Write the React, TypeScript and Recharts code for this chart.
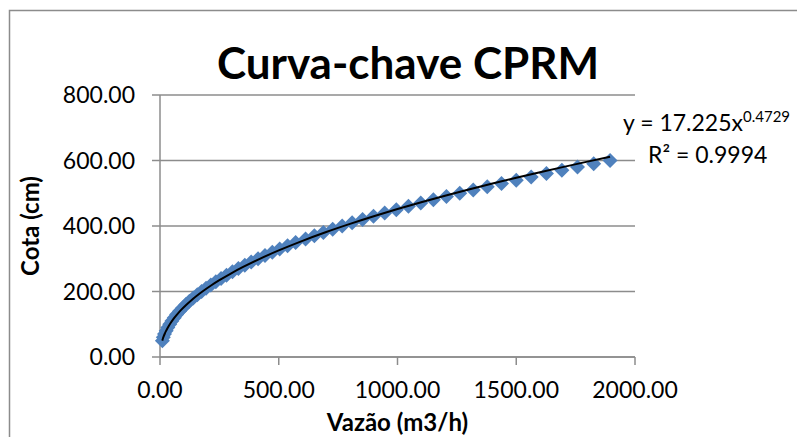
import { CartesianGrid, ComposedChart, Scatter, XAxis, YAxis } from "recharts";

// cota (cm) vs vazão (m3/h)
const cota = [
  50, 60, 70, 80, 90, 100, 110, 120, 130, 140, 150, 160, 170, 180, 190, 200, 210, 220, 230, 240,
  250, 260, 270, 280, 290, 300, 310, 320, 330, 340, 350, 360, 370, 380, 390, 400, 410, 420, 430, 440,
  450, 460, 470, 480, 490, 500, 510, 520, 530, 540, 550, 560, 570, 580, 590, 600,
];
const vazao = [
  10, 14, 19, 26, 33, 41, 50, 60, 70, 82, 95, 109, 124, 140, 157, 175, 194, 214, 235, 257,
  280, 305, 330, 357, 384, 413, 442, 473, 504, 537, 571, 613, 650, 688, 727, 767, 809, 853, 899, 946,
  995, 1046, 1098, 1151, 1206, 1262, 1319, 1378, 1438, 1500, 1563, 1627, 1692, 1758, 1826, 1895,
];

// power trendline y = 17.225x^0.4729 (sampled)
const trendX = [
  9.5, 12, 15, 20, 25, 32, 40, 50, 60, 75, 90, 110, 130, 155, 180, 215, 250, 300, 350, 420, 500, 600,
  700, 800, 900, 1000, 1100, 1200, 1300, 1400, 1500, 1600, 1700, 1800, 1895,
];
const trendY = [
  49.95, 55.78, 61.99, 71.03, 78.93, 88.7, 98.58, 109.55, 119.4, 132.69, 144.7, 159.06, 172.1, 187.06,
  200.8, 218.36, 234.5, 255.66, 274.9, 299.75, 325.5, 354.77, 381.6, 406.44, 429.8, 451.76, 472.5,
  492.43, 511.4, 529.65, 547.2, 564.2, 580.6, 596.5, 611.2,
];

const xTicks = [0, 500, 1000, 1500, 2000];
const yTicks = [0, 200, 400, 600, 800];

const points = cota.map((c, i) => ({ x: vazao[i], y: c }));
const trend = trendX.map((x, i) => ({ x, y: trendY[i] }));

const font = "Lato, 'Open Sans', sans-serif";
const gray = "#8c8c8c";
const blue = "#4f81bd";

const Diamond = (props: any) => {
  const { cx, cy } = props;
  const r = 7.5;
  return <path d={`M${cx},${cy - r}L${cx + r},${cy}L${cx},${cy + r}L${cx - r},${cy}Z`} fill={blue} />;
};

const NoDot = () => <g />;

export default function App() {
  const tick = { fill: "#000", fontSize: 23, fontFamily: font };
  const titleStyle = { fontFamily: font, fontSize: 24, fontWeight: 700, fill: "#000" };
  return (
    <div style={{ position: "absolute", left: 0, top: 0, width: 797, height: 437, background: "#fff" }}>
      <ComposedChart width={797} height={437} margin={{ top: 95, right: 162, left: 0, bottom: 0 }}>
        <CartesianGrid vertical={false} stroke={gray} strokeWidth={1.5} />
        <XAxis
          type="number"
          dataKey="x"
          domain={[0, 2000]}
          ticks={xTicks}
          tickFormatter={(v: number) => v.toFixed(2)}
          height={80}
          tick={tick}
          tickSize={8}
          tickMargin={17}
          axisLine={{ stroke: gray, strokeWidth: 1.5 }}
          tickLine={{ stroke: gray, strokeWidth: 1.5 }}
          label={{ value: "Vazão (m3/h)", position: "insideBottom", offset: 6, style: titleStyle }}
        />
        <YAxis
          type="number"
          dataKey="y"
          domain={[0, 800]}
          ticks={yTicks}
          tickFormatter={(v: number) => v.toFixed(2)}
          width={160}
          tick={tick}
          tickSize={8}
          tickMargin={17}
          axisLine={{ stroke: gray, strokeWidth: 1.5 }}
          tickLine={{ stroke: gray, strokeWidth: 1.5 }}
          label={{
            value: "Cota (cm)",
            angle: -90,
            position: "insideLeft",
            offset: 30,
            style: { ...titleStyle, textAnchor: "middle" },
          }}
        />
        <Scatter data={points} shape={Diamond} isAnimationActive={false} />
        <Scatter
          data={trend}
          shape={NoDot}
          line={{ stroke: "#000", strokeWidth: 2 }}
          lineJointType="monotoneX"
          isAnimationActive={false}
        />
      </ComposedChart>
      <svg width={797} height={437} style={{ position: "absolute", left: 0, top: 0, pointerEvents: "none" }}>
        <path d="M9.5,437V10.5H797" fill="none" stroke={gray} strokeWidth={1.5} />
        <text x={408} y={79} textAnchor="middle" fontFamily={font} fontSize={44} fontWeight={700}>
          Curva-chave CPRM
        </text>
        <text x={623} y={131} fontFamily={font} fontSize={23}>
          y = 17.225x
          <tspan fontSize={15} dy={-9}>0.4729</tspan>
        </text>
        <text x={648} y={163} fontFamily={font} fontSize={23}>
          R² = 0.9994
        </text>
      </svg>
    </div>
  );
}
